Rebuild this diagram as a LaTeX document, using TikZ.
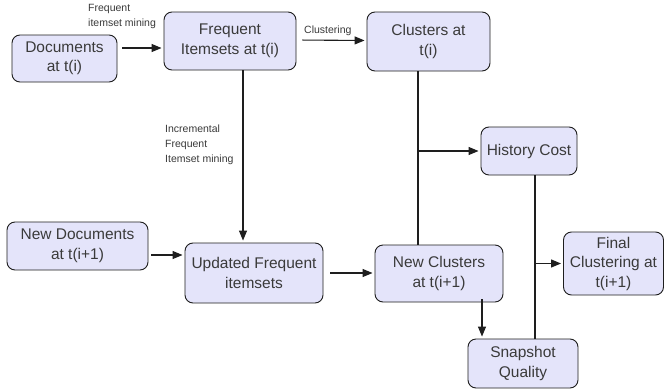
\documentclass[tikz,border=0pt]{standalone}
\usepackage{fontspec}
\setmainfont{Liberation Sans}
\usetikzlibrary{arrows.meta,calc}
\definecolor{boxfill}{RGB}{228,228,250}
\definecolor{txt}{RGB}{58,58,58}
\definecolor{ln}{RGB}{30,30,30}
\begin{document}
\begin{tikzpicture}[x=1pt,y=-1pt,
  box/.style={draw=ln,line width=0.9pt,fill=boxfill,rounded corners=8pt,
    align=center,text=txt,inner sep=0pt,
    font=\fontsize{15.5}{19.5}\selectfont},
  arr/.style={draw=ln,line width=1.1pt,-{Triangle[length=10pt,width=8pt]},shorten >=2pt},
  ln/.style={draw=ln,line width=1.1pt},
  lbl/.style={text=txt,font=\fontsize{10.5}{15}\selectfont,inner sep=0pt,align=left}]
\useasboundingbox (0,0) rectangle (665,389);
\fill[white] (0,0) rectangle (665,389);
% nodes
\node[box,minimum width=105pt,minimum height=47pt] (docs) at (64.5,58.5) {Documents\\at t(i)};
\node[box,minimum width=132pt,minimum height=58pt] (fi) at (230,41) {Frequent\\Itemsets at t(i)};
\node[box,minimum width=123pt,minimum height=59pt] (cl) at (428.5,41.5) {Clusters at\\t(i)};
\node[box,minimum width=96pt,minimum height=48pt] (hc) at (529,151) {History Cost};
\node[box,minimum width=141pt,minimum height=48pt] (nd) at (77.5,246) {New Documents\\at t(i+1)};
\node[box,minimum width=138pt,minimum height=60pt] (uf) at (254,273) {Updated Frequent\\itemsets};
\node[box,minimum width=128pt,minimum height=57pt] (nc) at (439,273.5) {New Clusters\\at t(i+1)};
\node[box,minimum width=100pt,minimum height=63pt] (fc) at (613.5,263.5) {Final\\Clustering at\\t(i+1)};
\node[box,minimum width=110pt,minimum height=49pt] (sq) at (523,363.5) {Snapshot\\Quality};
% labels
\node[lbl,anchor=north west] (l1) at (88,4) {Frequent\\itemset mining};
\node[lbl,anchor=west] (l2) at (304,31) {Clustering};
\node[lbl,anchor=north west] (l3) at (165,125) {Incremental\\Frequent\\Itemset mining};
% connectors
\draw[arr] ([shift={(5,-10.5)}]docs.east) coordinate (a1) -- (a1 -| fi.west);
\draw[arr,shorten <=6pt] ([yshift=1]fi.east) -- ([yshift=1]cl.west);
\draw[arr] ([xshift=13]fi.south) -- ([xshift=13]fi.south |- uf.north);
\draw[arr] ([shift={(3,9)}]nd.east) coordinate (a2) -- (a2 -| uf.west);
\draw[arr,shorten <=7pt] (uf.east) -- (uf.east -| nc.west);
\draw[ln] ([xshift=-10.5]cl.south) -- ([xshift=-10.5]cl.south |- nc.north);
\coordinate (b1) at ([xshift=-10.5]cl.south |- hc.west);
\draw[arr] (b1) -- (hc.west);
\draw[ln] ([xshift=6]hc.south) -- ([xshift=6]hc.south |- sq.north);
\coordinate (b2) at ([xshift=6]hc.south |- fc.west);
\draw[arr] (b2) -- (fc.west);
\draw[arr] ([xshift=43,yshift=3]nc.south) coordinate (a3) -- (a3 |- sq.north);
\end{tikzpicture}
\end{document}
